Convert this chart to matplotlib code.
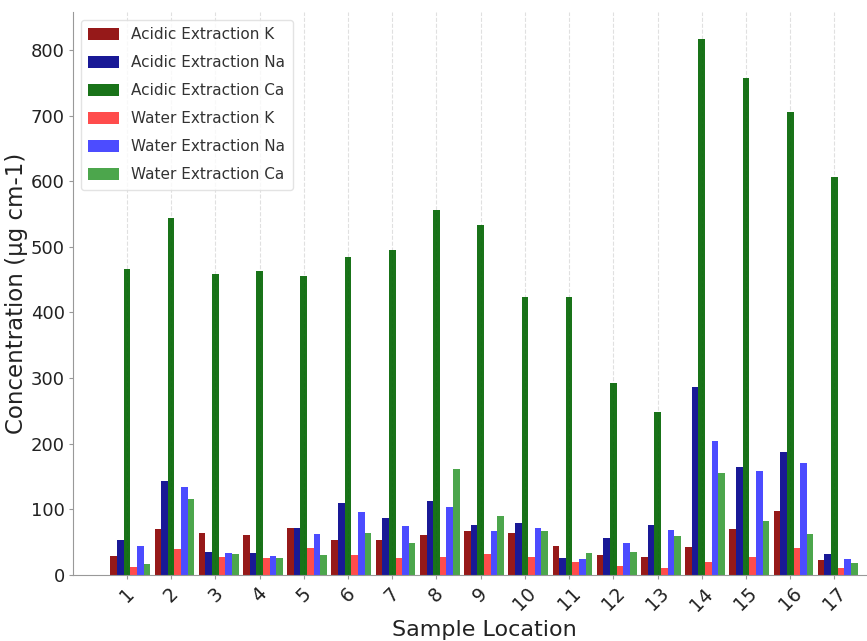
import matplotlib
matplotlib.use("Agg")
import matplotlib.pyplot as plt
import numpy as np

# sample locations 1..17
locations = [str(i) for i in range(1, 18)]

# concentrations (µg cm-1)
acid_k = [29, 69.5, 63.5, 61.5, 71, 54, 54, 61, 66.5, 63.5, 43.5, 31, 28, 42.5, 69.5, 97.5, 23.5]
acid_na = [54, 143, 35, 34, 71, 110, 87, 112, 76, 79.5, 26, 56, 76, 286, 164, 188, 31.5]
acid_ca = [467, 544, 458, 463, 456, 484.5, 495, 556, 534, 424, 423, 292.5, 248, 817, 757, 705, 607]
water_k = [12, 39, 28, 25.5, 41, 30, 26, 28, 31.5, 28, 20, 14, 11, 20, 28, 41.5, 10]
water_na = [43.5, 133.5, 33, 29.5, 62, 96, 75, 104, 67.5, 72, 24, 48, 68.5, 203.5, 159, 171, 24]
water_ca = [16.5, 116, 31.5, 26, 31, 64.5, 48, 161, 90, 67.5, 33, 35, 60, 155, 83, 62, 19]

series = [
    ("Acidic Extraction K", acid_k, "darkred", 0.9),
    ("Acidic Extraction Na", acid_na, "darkblue", 0.9),
    ("Acidic Extraction Ca", acid_ca, "darkgreen", 0.9),
    ("Water Extraction K", water_k, "red", 0.7),
    ("Water Extraction Na", water_na, "blue", 0.7),
    ("Water Extraction Ca", water_ca, "green", 0.7),
]

W, H = 867, 641
fig = plt.figure(figsize=(W / 100, H / 100), dpi=100)
fig.patch.set_facecolor("white")
# axes runs past the right edge, like the cropped original
ax = fig.add_axes([73 / W, (H - 575) / H, 822 / W, 563 / H])

x = np.arange(len(locations))
w = 0.15
for k, (name, vals, col, a) in enumerate(series):
    ax.bar(x + (k - 2) * w, vals, w, label=name, color=col, alpha=a)

ax.set_xticks(x)
ax.set_xticklabels(locations, rotation=45, fontsize=13.5, color="#222")
ax.tick_params(axis="y", labelsize=13, labelcolor="#222", color="#999", length=3, pad=3)
ax.tick_params(axis="x", color="#999", length=3)
ax.set_xlabel("Sample Location", fontsize=16, color="#222")
ax.set_ylabel("Concentration (µg cm-1)", fontsize=16.5, color="#222", labelpad=2)

ax.set_axisbelow(True)
ax.xaxis.grid(True, linestyle="--", color="#cccccc", alpha=0.6, lw=0.8)
for s in ("top", "right"):
    ax.spines[s].set_visible(False)
for s in ("left", "bottom"):
    ax.spines[s].set_color("#999999")

leg = ax.legend(loc="upper left", fontsize=11, frameon=True,
                labelspacing=0.85, handleheight=0.85, borderpad=0.5)
leg.get_frame().set_edgecolor("#dddddd")
for t in leg.get_texts():
    t.set_color("#333")

fig.savefig("out.png", dpi=100, facecolor="white")
print("ok")
